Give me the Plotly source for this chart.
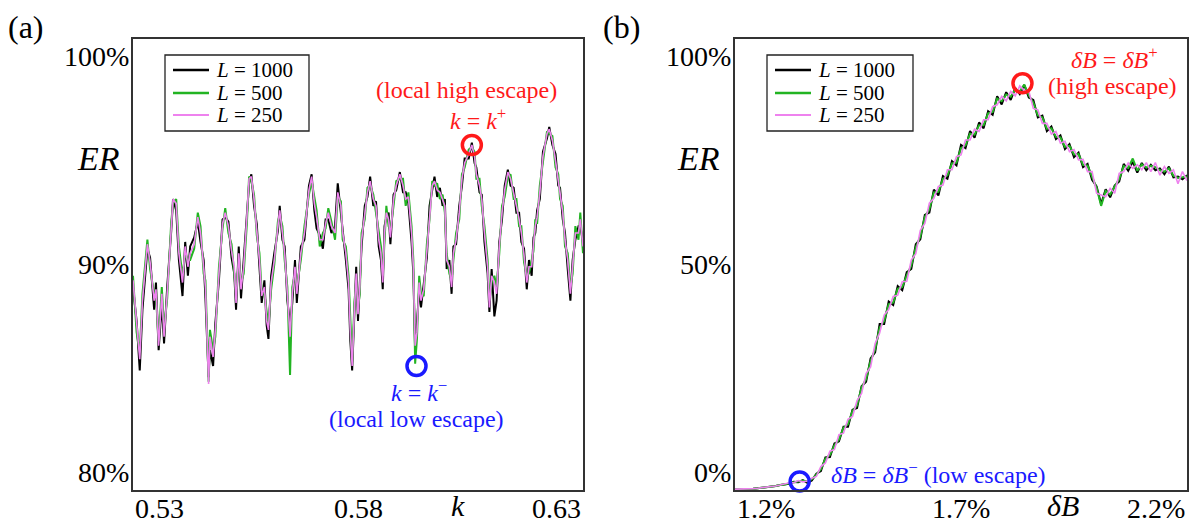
import plotly.graph_objects as go

# ---------------- panel (a): ER vs k ----------------
k_vals = [
    0.5300, 0.5308, 0.5315, 0.5321, 0.5332, 0.5338, 0.5347, 0.5351, 0.5357, 0.5364,
    0.5369, 0.5376, 0.5385, 0.5389, 0.5396, 0.5402, 0.5410, 0.5416, 0.5422, 0.5427,
    0.5436, 0.5444, 0.5450, 0.5457, 0.5461, 0.5468, 0.5471, 0.5478, 0.5483, 0.5491,
    0.5499, 0.5505, 0.5512, 0.5519, 0.5525, 0.5529, 0.5535, 0.5540, 0.5546, 0.5553,
    0.5558, 0.5563, 0.5569, 0.5575, 0.5581, 0.5586, 0.5592, 0.5597, 0.5601, 0.5607,
    0.5614, 0.5622, 0.5626, 0.5632, 0.5637, 0.5643, 0.5649, 0.5654, 0.5660, 0.5664,
    0.5673, 0.5681, 0.5691, 0.5697, 0.5703, 0.5708, 0.5715, 0.5722, 0.5728, 0.5734,
    0.5741, 0.5749, 0.5755, 0.5762, 0.5766, 0.5773, 0.5779, 0.5783, 0.5787, 0.5792,
    0.5796, 0.5800, 0.5804, 0.5808, 0.5815, 0.5821, 0.5827, 0.5834, 0.5840, 0.5846,
    0.5851, 0.5855, 0.5859, 0.5863, 0.5868, 0.5872, 0.5879, 0.5885, 0.5893, 0.5900,
    0.5906, 0.5912, 0.5919, 0.5923, 0.5927, 0.5931, 0.5936, 0.5940, 0.5946, 0.5953,
    0.5959, 0.5965, 0.5970, 0.5976, 0.5982, 0.5988, 0.5993, 0.5997, 0.6003, 0.6008,
    0.6012, 0.6018, 0.6025, 0.6031, 0.6037, 0.6046, 0.6053, 0.6059, 0.6063, 0.6070,
    0.6075, 0.6081, 0.6088, 0.6092, 0.6097, 0.6103, 0.6108, 0.6114, 0.6120, 0.6126,
    0.6133, 0.6139, 0.6146, 0.6152, 0.6158, 0.6163, 0.6169, 0.6175, 0.6180, 0.6186,
    0.6190, 0.6194, 0.6198, 0.6204, 0.6211, 0.6220, 0.6225, 0.6232, 0.6239, 0.6245,
    0.6249, 0.6255, 0.6260, 0.6266, 0.6272, 0.6277, 0.6283, 0.6290, 0.6294, 0.6300,
]
er_k_L1000 = [
    89.0, 87.5, 85.3, 88.0, 90.7, 90.3, 88.0, 89.2, 86.2, 88.3,
    86.5, 89.0, 91.5, 92.9, 92.4, 90.2, 88.6, 91.0, 89.5, 90.8,
    91.2, 91.9, 91.0, 90.2, 88.5, 85.0, 86.2, 85.5, 87.4, 89.3,
    92.0, 92.1, 91.9, 90.3, 89.6, 88.0, 90.8, 88.5, 90.2, 92.4,
    93.6, 94.0, 92.6, 91.8, 89.8, 88.3, 89.3, 87.3, 86.7, 89.5,
    90.5, 91.5, 92.6, 91.1, 90.8, 88.4, 87.4, 88.3, 90.2, 88.3,
    90.8, 91.1, 93.5, 94.0, 92.4, 91.6, 91.3, 90.7, 92.0, 92.0,
    91.4, 91.7, 93.6, 92.3, 91.7, 90.2, 88.9, 86.6, 85.3, 87.6,
    89.9, 87.5, 89.3, 90.8, 92.6, 93.0, 93.9, 92.6, 92.8, 90.8,
    90.2, 88.9, 91.7, 92.1, 92.3, 90.9, 93.1, 93.3, 94.1, 93.2,
    93.2, 92.7, 91.0, 89.6, 86.2, 87.4, 88.9, 88.1, 89.2, 90.3,
    92.6, 93.3, 93.9, 93.0, 93.4, 92.6, 92.9, 89.8, 90.2, 88.7,
    90.8, 90.9, 92.6, 93.5, 94.7, 94.7, 95.4, 94.5, 94.3, 93.2,
    93.1, 91.0, 89.6, 87.9, 89.8, 87.7, 88.4, 91.0, 92.0, 93.5,
    94.2, 93.5, 93.4, 92.3, 92.3, 91.0, 90.7, 88.9, 90.2, 89.5,
    91.2, 91.4, 92.4, 92.9, 95.0, 95.6, 96.1, 95.3, 94.9, 93.5,
    93.4, 92.0, 91.4, 89.8, 88.4, 90.2, 91.1, 91.7, 91.7, 91.0,
]
er_k_L500 = [
    89.5, 87.0, 86.1, 88.7, 91.1, 89.8, 88.7, 88.6, 86.6, 89.0,
    87.1, 88.5, 91.9, 92.7, 92.9, 90.8, 89.5, 90.5, 90.2, 90.2,
    90.7, 92.3, 91.7, 89.6, 89.3, 84.8, 87.1, 86.2, 86.8, 89.9,
    91.6, 92.5, 91.4, 90.9, 89.6, 88.6, 90.2, 89.2, 89.6, 91.8,
    93.9, 93.7, 93.1, 91.3, 90.5, 88.8, 88.7, 87.8, 87.3, 88.9,
    90.0, 91.9, 92.2, 91.7, 90.2, 89.0, 85.1, 89.0, 89.6, 89.0,
    90.2, 91.7, 93.1, 93.7, 92.9, 92.4, 90.8, 91.4, 91.6, 92.5,
    91.9, 91.1, 93.0, 92.8, 91.1, 90.8, 89.5, 87.3, 85.7, 88.3,
    89.3, 88.1, 88.7, 91.4, 92.0, 93.4, 93.5, 93.1, 92.3, 91.4,
    90.8, 89.5, 91.1, 92.6, 91.7, 91.5, 92.6, 93.7, 93.8, 93.8,
    92.6, 93.2, 91.7, 90.2, 85.6, 86.7, 89.5, 88.7, 88.6, 90.9,
    92.0, 93.7, 93.5, 93.6, 92.9, 93.1, 92.3, 90.5, 89.6, 89.3,
    90.2, 91.4, 92.0, 94.0, 94.3, 95.1, 95.2, 95.0, 93.8, 93.8,
    92.6, 91.7, 90.2, 88.4, 89.2, 89.5, 89.0, 90.5, 92.6, 93.0,
    93.9, 94.0, 92.9, 92.9, 91.7, 91.7, 90.1, 89.5, 89.6, 90.2,
    90.6, 92.0, 91.8, 93.5, 94.5, 95.9, 95.8, 95.7, 94.3, 94.0,
    92.9, 92.6, 90.8, 90.5, 89.0, 89.6, 91.7, 91.1, 92.3, 90.5,
]
er_k_L250 = [
    89.3, 87.2, 85.8, 88.4, 90.9, 90.1, 88.4, 88.9, 86.4, 88.7,
    86.8, 88.7, 91.7, 92.9, 92.7, 90.5, 89.2, 90.8, 89.9, 90.5,
    90.9, 92.1, 91.4, 89.9, 89.0, 84.7, 86.8, 85.9, 87.1, 89.6,
    91.8, 92.3, 91.7, 90.6, 89.9, 88.3, 90.5, 88.9, 89.9, 92.1,
    93.8, 93.9, 92.9, 91.5, 90.2, 88.6, 89.0, 87.5, 87.1, 89.2,
    90.2, 91.7, 92.4, 91.4, 90.5, 88.7, 86.8, 88.7, 89.9, 88.7,
    90.5, 91.4, 93.3, 93.9, 92.7, 92.1, 91.1, 91.1, 91.8, 92.3,
    91.7, 91.4, 93.2, 92.6, 91.4, 90.5, 89.2, 87.0, 85.5, 88.0,
    89.6, 87.8, 89.0, 91.1, 92.3, 93.2, 93.7, 92.9, 92.6, 91.1,
    90.5, 89.2, 91.4, 92.3, 92.0, 91.2, 92.9, 93.5, 94.0, 93.5,
    92.9, 93.0, 91.4, 89.9, 86.4, 87.0, 89.2, 88.4, 88.9, 90.6,
    92.3, 93.5, 93.7, 93.3, 93.2, 92.9, 92.6, 90.2, 89.9, 89.0,
    90.5, 91.1, 92.3, 93.8, 94.5, 94.9, 95.3, 94.8, 94.0, 93.5,
    92.9, 91.4, 89.9, 88.1, 89.5, 89.2, 88.7, 90.8, 92.3, 93.3,
    94.1, 93.8, 93.2, 92.6, 92.0, 91.4, 90.4, 89.2, 89.9, 89.9,
    90.9, 91.7, 92.1, 93.2, 94.8, 95.8, 96.0, 95.5, 94.6, 93.8,
    93.2, 92.3, 91.1, 90.2, 88.7, 89.9, 91.4, 91.4, 92.0, 90.8,
]

# ---------------- panel (b): ER vs deltaB (%) ----------------
db_vals = [
    1.20, 1.21, 1.22, 1.23, 1.24, 1.25, 1.26, 1.27, 1.28, 1.29,
    1.30, 1.31, 1.32, 1.33, 1.34, 1.35, 1.36, 1.37, 1.38, 1.39,
    1.40, 1.41, 1.42, 1.43, 1.44, 1.45, 1.46, 1.47, 1.48, 1.49,
    1.50, 1.51, 1.52, 1.53, 1.54, 1.55, 1.56, 1.57, 1.58, 1.59,
    1.60, 1.61, 1.62, 1.63, 1.64, 1.65, 1.66, 1.67, 1.68, 1.69,
    1.70, 1.71, 1.72, 1.73, 1.74, 1.75, 1.76, 1.77, 1.78, 1.79,
    1.80, 1.81, 1.82, 1.83, 1.84, 1.85, 1.86, 1.87, 1.88, 1.89,
    1.90, 1.91, 1.92, 1.93, 1.94, 1.95, 1.96, 1.97, 1.98, 1.99,
    2.00, 2.01, 2.02, 2.03, 2.04, 2.05, 2.06, 2.07, 2.08, 2.09,
    2.10, 2.11, 2.12, 2.13, 2.14, 2.15, 2.16, 2.17, 2.18, 2.19,
    2.20,
]
er_b_L1000 = [
    0.2, 0.2, 0.2, 0.3, 0.3, 0.4, 0.5, 0.6, 0.7, 0.9,
    1.1, 1.3, 1.4, 1.8, 1.7, 2.2, 1.6, 2.1, 3.6, 4.2,
    7.2, 7.3, 10.3, 10.8, 14.0, 14.0, 17.8, 18.2, 23.0, 24.0,
    29.2, 30.5, 36.8, 36.8, 41.8, 41.0, 45.2, 44.3, 48.3, 49.0,
    54.5, 55.6, 61.0, 61.5, 66.6, 65.3, 69.6, 69.0, 72.9, 72.0,
    76.5, 75.8, 79.6, 78.1, 81.5, 80.2, 84.0, 83.2, 87.3, 85.5,
    88.2, 86.5, 89.1, 87.8, 89.8, 87.0, 86.5, 82.6, 83.0, 79.6,
    80.6, 77.8, 78.6, 75.6, 76.7, 73.8, 74.8, 71.6, 72.3, 68.8,
    67.3, 63.4, 66.7, 64.9, 67.5, 68.4, 72.3, 70.8, 72.8, 70.4,
    72.5, 70.9, 72.1, 70.9, 71.3, 70.0, 71.7, 69.3, 69.5, 68.9,
    69.8,
]
er_b_L500 = [
    0.2, 0.2, 0.2, 0.3, 0.3, 0.4, 0.5, 0.6, 0.7, 0.9,
    1.1, 1.2, 1.5, 1.7, 1.8, 2.1, 1.9, 2.4, 3.4, 4.6,
    6.9, 7.8, 9.9, 11.2, 13.8, 14.6, 17.5, 18.8, 22.7, 24.6,
    28.6, 31.2, 36.0, 37.5, 41.2, 41.6, 44.6, 45.0, 47.6, 49.8,
    53.8, 56.2, 60.5, 62.3, 66.0, 66.1, 69.0, 69.8, 72.4, 72.6,
    75.8, 76.4, 79.0, 78.8, 80.9, 80.9, 83.5, 83.8, 86.8, 86.2,
    87.7, 87.2, 88.8, 88.4, 89.9, 87.5, 85.9, 83.1, 82.6, 80.1,
    80.2, 78.3, 78.2, 76.1, 76.3, 74.4, 74.5, 72.1, 71.9, 69.4,
    67.0, 63.0, 66.3, 65.5, 67.1, 69.0, 71.8, 71.4, 73.5, 70.8,
    72.2, 71.5, 71.9, 71.6, 70.9, 70.6, 71.3, 69.7, 69.2, 69.4,
    69.5,
]
er_b_L250 = [
    0.2, 0.2, 0.2, 0.3, 0.3, 0.4, 0.5, 0.6, 0.7, 0.9,
    1.1, 1.3, 1.6, 1.6, 2.1, 1.8, 2.0, 2.6, 3.0, 5.2,
    6.0, 8.6, 9.0, 12.3, 12.6, 15.7, 16.3, 19.8, 21.4, 25.8,
    27.3, 32.5, 34.8, 38.8, 40.0, 42.9, 43.2, 46.2, 46.3, 51.0,
    52.4, 57.6, 59.1, 63.6, 64.7, 67.3, 67.6, 71.0, 71.0, 73.9,
    74.3, 77.6, 77.6, 80.0, 79.5, 82.1, 82.1, 85.0, 85.4, 87.3,
    86.3, 88.4, 87.4, 89.6, 88.6, 88.5, 84.6, 84.3, 81.3, 81.3,
    78.9, 79.5, 76.9, 77.3, 75.0, 75.5, 73.2, 73.3, 70.6, 70.6,
    65.8, 65.4, 65.0, 66.9, 65.8, 70.2, 70.6, 72.5, 71.3, 72.1,
    71.0, 72.6, 70.6, 72.6, 69.8, 71.7, 70.2, 71.0, 67.9, 70.6,
    68.6,
]

# marked points
k_marks = [0.6053, 0.5930]
er_k_marks = [95.3, 85.5]
db_marks = [1.836, 1.343]
er_db_marks = [90.2, 1.9]

series_names = ["<i>L</i> = 1000", "<i>L</i> = 500", "<i>L</i> = 250"]

# ---------------- styling ----------------
series_colors = ["#000000", "#22b422", "#ee82ee"]
series_widths = [2.0, 2.0, 1.6]
mark_colors = ["#ff1a1a", "#1a1aff"]
FONT = "Liberation Serif"
RED = "#ff1a1a"
BLUE = "#1a1aff"
W, H = 1194, 523


def px(x):
    return x / W


def py(y):
    return 1 - y / H


fig = go.Figure()
a_series = [er_k_L1000, er_k_L500, er_k_L250]
b_series = [er_b_L1000, er_b_L500, er_b_L250]
for i in range(3):
    fig.add_trace(go.Scatter(x=k_vals, y=a_series[i], mode="lines", name=series_names[i],
                             line=dict(color=series_colors[i], width=series_widths[i]),
                             xaxis="x", yaxis="y", showlegend=False))
for i in range(3):
    fig.add_trace(go.Scatter(x=db_vals, y=b_series[i], mode="lines", name=series_names[i],
                             line=dict(color=series_colors[i], width=series_widths[i]),
                             xaxis="x2", yaxis="y2", showlegend=False))

fig.add_trace(go.Scatter(x=k_marks, y=er_k_marks, mode="markers", showlegend=False,
                         marker=dict(symbol="circle-open", size=19,
                                     color=mark_colors, line=dict(width=3.5, color=mark_colors)),
                         xaxis="x", yaxis="y"))
fig.add_trace(go.Scatter(x=db_marks, y=er_db_marks, mode="markers", showlegend=False,
                         marker=dict(symbol="circle-open", size=19,
                                     color=mark_colors, line=dict(width=3.5, color=mark_colors)),
                         xaxis="x2", yaxis="y2", cliponaxis=False))

axis_common = dict(showline=True, mirror=True, linecolor="#333333", linewidth=1.5,
                   showgrid=False, zeroline=False, showticklabels=False, ticks="")

ydom = [1 - 490 / H, 1 - 39 / H]
fig.update_layout(
    width=W, height=H,
    margin=dict(l=0, r=0, t=0, b=0),
    paper_bgcolor="white", plot_bgcolor="white",
    font=dict(family=FONT, color="black"),
    showlegend=False,
    xaxis=dict(domain=[133 / W, 583 / W], range=[0.53, 0.63], anchor="y", **axis_common),
    yaxis=dict(domain=ydom, range=[80, 100], anchor="x", **axis_common),
    xaxis2=dict(domain=[735 / W, 1187 / W], range=[1.2, 2.2], anchor="y2", **axis_common),
    yaxis2=dict(domain=ydom, range=[0, 100], anchor="x2", **axis_common),
)


def F(size, color="black"):
    return dict(family=FONT, size=size, color=color)


TICK = 28
ann = []
for val, txt, anc in [(0.53, "0.53", "left"), (0.58, "0.58", "center"), (0.63, "0.63", "right")]:
    ann.append(dict(x=val, y=0, xref="x", yref="y domain", text=txt, showarrow=False,
                    xanchor=anc, yanchor="top", yshift=-1, xshift=0, font=F(TICK)))
for val, txt, anc in [(100, "100%", "top"), (90, "90%", "middle"), (80, "80%", "bottom")]:
    ann.append(dict(x=0, y=val, xref="x domain", yref="y", text=txt, showarrow=False,
                    xanchor="right", yanchor=anc, xshift=-2, font=F(TICK)))
for val, txt, anc in [(1.2, "1.2%", "left"), (1.7, "1.7%", "center"), (2.2, "2.2%", "right")]:
    ann.append(dict(x=val, y=0, xref="x2", yref="y2 domain", text=txt, showarrow=False,
                    xanchor=anc, yanchor="top", yshift=-1, font=F(TICK)))
for val, txt, anc in [(100, "100%", "top"), (50, "50%", "middle"), (0, "0%", "bottom")]:
    ann.append(dict(x=0, y=val, xref="x2 domain", yref="y2", text=txt, showarrow=False,
                    xanchor="right", yanchor=anc, xshift=-2, font=F(TICK)))

# axis titles
ann.append(dict(x=0.6022, y=0, xref="x", yref="y domain", text="<i>k</i>", showarrow=False,
                xanchor="center", yanchor="top", yshift=3, font=F(30)))
ann.append(dict(x=1.926, y=0, xref="x2", yref="y2 domain", text="<i>δB</i>", showarrow=False,
                xanchor="center", yanchor="top", yshift=3, font=F(30)))
ann.append(dict(x=px(98), y=py(158), xref="paper", yref="paper", text="<i>ER</i>",
                showarrow=False, xanchor="center", yanchor="middle", font=F(34)))
ann.append(dict(x=px(698), y=py(158), xref="paper", yref="paper", text="<i>ER</i>",
                showarrow=False, xanchor="center", yanchor="middle", font=F(34)))

# panel labels
ann.append(dict(x=px(6), y=py(27), xref="paper", yref="paper", text="(a)",
                showarrow=False, xanchor="left", yanchor="middle", font=F(32)))
ann.append(dict(x=px(601), y=py(27), xref="paper", yref="paper", text="(b)",
                showarrow=False, xanchor="left", yanchor="middle", font=F(32)))

# point annotations (a)
ANN = 24
ann.append(dict(x=0.6042, y=97.75, xref="x", yref="y", text="(local high escape)", showarrow=False,
                xanchor="center", yanchor="middle", font=F(ANN, RED)))
ann.append(dict(x=0.6067, y=96.45, xref="x", yref="y", text="<i>k</i> = <i>k</i><sup>+</sup>",
                showarrow=False, xanchor="center", yanchor="middle", font=F(ANN, RED)))
ann.append(dict(x=0.5936, y=84.4, xref="x", yref="y", text="<i>k</i> = <i>k</i><sup>−</sup>",
                showarrow=False, xanchor="center", yanchor="middle", font=F(ANN, BLUE)))
ann.append(dict(x=0.5929, y=83.15, xref="x", yref="y", text="(local low escape)", showarrow=False,
                xanchor="center", yanchor="middle", font=F(ANN, BLUE)))
# point annotations (b)
ann.append(dict(x=2.04, y=95.8, xref="x2", yref="y2", text="<i>δB</i> = <i>δB</i><sup>+</sup>",
                showarrow=False, xanchor="center", yanchor="middle", font=F(ANN, RED)))
ann.append(dict(x=2.036, y=89.6, xref="x2", yref="y2", text="(high escape)", showarrow=False,
                xanchor="center", yanchor="middle", font=F(ANN, RED)))
ann.append(dict(x=1.408, y=3.8, xref="x2", yref="y2",
                text="<i>δB</i> = <i>δB</i><sup>−</sup> (low escape)", showarrow=False,
                xanchor="left", yanchor="middle", font=F(ANN, BLUE)))

# legends drawn as boxes with line samples and labels
shapes = []
for (bx0, bx1) in [(165, 309), (767, 913)]:
    shapes.append(dict(type="rect", xref="paper", yref="paper",
                       x0=px(bx0), x1=px(bx1), y0=py(131), y1=py(55),
                       line=dict(color="#222222", width=1.3), fillcolor="white", layer="above"))
    for i, yy in enumerate([70, 93, 115]):
        shapes.append(dict(type="line", xref="paper", yref="paper",
                           x0=px(bx0 + 8), x1=px(bx0 + 44), y0=py(yy), y1=py(yy),
                           line=dict(color=series_colors[i], width=series_widths[i] + 0.5),
                           layer="above"))
        ann.append(dict(x=px(bx0 + 49), y=py(yy), xref="paper", yref="paper",
                        text=series_names[i], showarrow=False, xanchor="left",
                        yanchor="middle", font=F(21)))

fig.update_layout(annotations=ann, shapes=shapes)
fig.write_html("out.html", config={"displayModeBar": False},
               post_script="document.body.style.margin='0';document.body.style.overflow='hidden';")
